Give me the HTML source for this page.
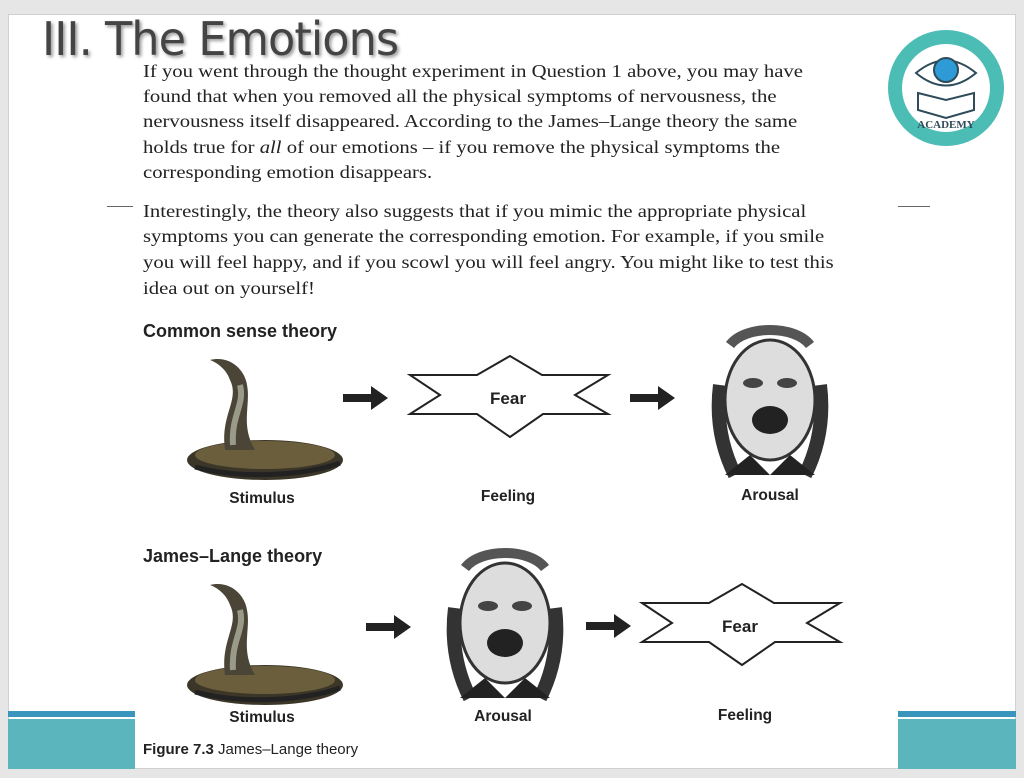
<!DOCTYPE html>
<html><head><meta charset="utf-8"><style>
html,body{margin:0;padding:0;width:1024px;height:778px;background:#e6e6e6;overflow:hidden;position:relative;font-family:"Liberation Sans",sans-serif}
.slide{position:absolute;left:8px;top:14px;width:1008px;height:755px;background:#fff;border:1px solid #d0d0d0;box-sizing:border-box}
.t{position:absolute;white-space:nowrap}
.title{left:42px;top:12px;font-size:46px;color:#444;text-shadow:2px 2px 3px #999;letter-spacing:-1px;font-family:"DejaVu Sans",sans-serif;font-weight:normal;transform:scaleX(0.97);transform-origin:left}
.p{left:143px;font-family:"Liberation Serif",serif;font-size:18px;color:#222;transform:scaleX(1.15);transform-origin:left}
.h{left:143px;font-weight:bold;font-size:18px;color:#222}
.lab{font-weight:bold;font-size:15.5px;color:#222;transform:translateX(-50%)}
</style></head><body>
<div class="slide"></div>
<div style="position:absolute;left:8px;top:711px;width:127px;height:6px;background:#3a95bd"></div>
<div style="position:absolute;left:8px;top:719px;width:127px;height:50px;background:#5ab5bd"></div>
<div style="position:absolute;left:898px;top:711px;width:118px;height:6px;background:#3a95bd"></div>
<div style="position:absolute;left:898px;top:719px;width:118px;height:50px;background:#5ab5bd"></div>
<div style="position:absolute;left:107px;top:206px;width:26px;height:1px;background:#666"></div>
<div style="position:absolute;left:898px;top:206px;width:32px;height:1px;background:#666"></div>
<div class="t title">III. The Emotions</div>
<div class="t p" style="top:61px">If you went through the thought experiment in Question 1 above, you may have</div>
<div class="t p" style="top:86px">found that when you removed all the physical symptoms of nervousness, the</div>
<div class="t p" style="top:111px">nervousness itself disappeared. According to the James–Lange theory the same</div>
<div class="t p" style="top:137px">holds true for <i>all</i> of our emotions – if you remove the physical symptoms the</div>
<div class="t p" style="top:162px">corresponding emotion disappears.</div>
<div class="t p" style="top:201px">Interestingly, the theory also suggests that if you mimic the appropriate physical</div>
<div class="t p" style="top:226px">symptoms you can generate the corresponding emotion. For example, if you smile</div>
<div class="t p" style="top:252px">you will feel happy, and if you scowl you will feel angry. You might like to test this</div>
<div class="t p" style="top:278px">idea out on yourself!</div>
<div class="t h" style="top:321px">Common sense theory</div>
<div class="t h" style="top:546px">James–Lange theory</div>
<div class="t lab" style="left:262px;top:490px">Stimulus</div>
<div class="t lab" style="left:508px;top:488px">Feeling</div>
<div class="t lab" style="left:770px;top:487px">Arousal</div>
<div class="t lab" style="left:262px;top:709px">Stimulus</div>
<div class="t lab" style="left:503px;top:708px">Arousal</div>
<div class="t lab" style="left:745px;top:707px">Feeling</div>
<div class="t" style="left:143px;top:741px;font-size:15px;color:#222"><b>Figure 7.3</b> James–Lange theory</div>
<svg width="1024" height="778" style="position:absolute;left:0;top:0">
<defs>
<g id="snake">
<ellipse cx="80" cy="105" rx="78" ry="20" fill="#3b3628"/>
<ellipse cx="80" cy="100" rx="70" ry="14" fill="#6b5e3c"/>
<path d="M40 95 C35 60 55 45 45 25 C40 10 25 5 25 5 C45 0 60 15 62 30 C66 50 55 70 70 95 Z" fill="#4a4536"/>
<path d="M48 90 C46 60 60 50 55 30" stroke="#9a9a8a" stroke-width="6" fill="none"/>
<path d="M10 112 C60 125 120 120 155 108" stroke="#222" stroke-width="5" fill="none"/>
</g>
<g id="face">
<ellipse cx="65" cy="75" rx="45" ry="60" fill="#ddd" stroke="#333" stroke-width="3"/>
<path d="M25 20 C40 0 90 0 105 20" stroke="#555" stroke-width="10" fill="none"/>
<ellipse cx="65" cy="95" rx="18" ry="14" fill="#222"/>
<ellipse cx="48" cy="58" rx="10" ry="5" fill="#444"/>
<ellipse cx="82" cy="58" rx="10" ry="5" fill="#444"/>
<path d="M15 60 C10 100 20 130 30 150 M115 60 C120 100 110 130 100 150" stroke="#333" stroke-width="14" fill="none"/>
<path d="M20 150 L45 130 L65 150 L85 130 L110 150 Z" fill="#222"/>
</g>
<g id="star">
<polygon points="100,0 67,19 0,19 30,39 0,58 67,58 100,81 133,58 198,58 165,39 198,19 132,19" fill="#fff" stroke="#222" stroke-width="2"/>
</g>
<g id="arrow"><polygon points="0,8 28,8 28,0 45,12 28,24 28,16 0,16" fill="#222"/></g>
</defs>
<use href="#snake" x="185" y="355"/>
<use href="#snake" x="185" y="580"/>
<use href="#face" x="705" y="325"/>
<use href="#face" x="440" y="548"/>
<use href="#star" x="410" y="356"/>
<use href="#star" x="642" y="584"/>
<text x="508" y="404" font-family="Liberation Sans" font-weight="bold" font-size="17" fill="#222" text-anchor="middle">Fear</text>
<text x="740" y="632" font-family="Liberation Sans" font-weight="bold" font-size="17" fill="#222" text-anchor="middle">Fear</text>
<use href="#arrow" x="343" y="386"/>
<use href="#arrow" x="630" y="386"/>
<use href="#arrow" x="366" y="615"/>
<use href="#arrow" x="586" y="614"/>
<g transform="translate(946,88)">
<circle r="58" fill="#4bbdb5"/>
<circle r="44" fill="#fff"/>
<path d="M-30 -15 Q0 -40 30 -15 Q0 10 -30 -15Z" fill="none" stroke="#2e4b5a" stroke-width="2"/>
<circle cy="-18" r="12" fill="#2e9bd6" stroke="#2e4b5a" stroke-width="2"/>
<path d="M-28 5 L0 12 L28 5 L28 22 L0 30 L-28 22Z" fill="none" stroke="#2e4b5a" stroke-width="2"/>
<text y="40" font-family="Liberation Serif" font-weight="bold" font-size="11" fill="#2e4b5a" text-anchor="middle">ACADEMY</text>
</g>
</svg>
</body></html>
